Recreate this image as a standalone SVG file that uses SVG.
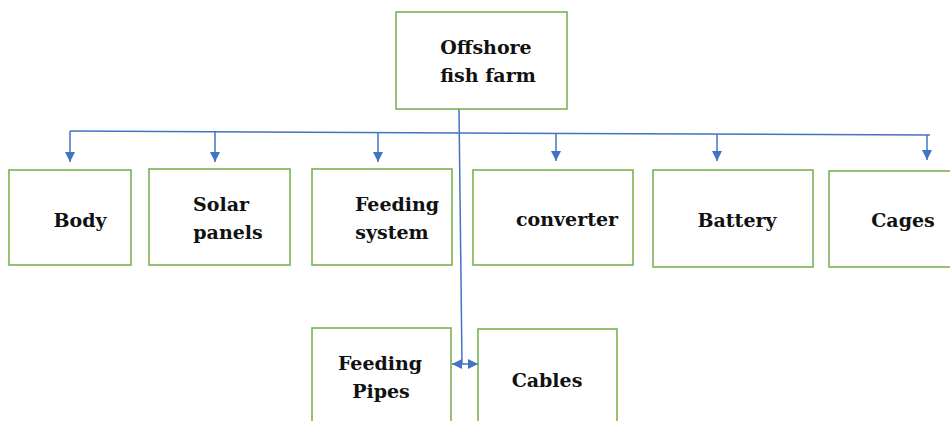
<svg xmlns="http://www.w3.org/2000/svg" width="950" height="421" viewBox="0 0 950 421">
<defs>
<marker id="ah" viewBox="0 0 10 10" refX="10" refY="5" markerWidth="10" markerHeight="10" markerUnits="userSpaceOnUse" orient="auto-start-reverse">
<path d="M0,0 L10,5 L0,10 Z" fill="#4472C4"/>
</marker>
<style>
.box{fill:#fff;stroke:#70AD47;stroke-width:1.5}
.lbl{font-family:'DejaVu Serif',serif;font-weight:bold;font-size:19px;fill:#111;text-anchor:middle}
.ln{fill:none;stroke:#4472C4;stroke-width:1.5}
</style>
</defs>
<rect width="950" height="421" fill="#fff"/>
<g id="connectors">
<polyline class="ln" points="70,131 460,133 930,135"/>
<line class="ln" x1="70" y1="131" x2="70" y2="162" marker-end="url(#ah)"/>
<line class="ln" x1="215" y1="131" x2="215" y2="162" marker-end="url(#ah)"/>
<line class="ln" x1="378" y1="132" x2="378" y2="162" marker-end="url(#ah)"/>
<line class="ln" x1="556" y1="134" x2="556" y2="161" marker-end="url(#ah)"/>
<line class="ln" x1="717" y1="134" x2="717" y2="161" marker-end="url(#ah)"/>
<line class="ln" x1="927" y1="135" x2="927" y2="160" marker-end="url(#ah)"/>
<line class="ln" x1="459" y1="109" x2="462" y2="364"/>
<line class="ln" x1="452" y1="364" x2="478" y2="364" marker-start="url(#ah)" marker-end="url(#ah)"/>
</g>
<g id="offshore"><rect class="box" x="396" y="12" width="171" height="97"/>
<text class="lbl" x="486" y="54">Offshore</text><text class="lbl" x="488" y="82">fish farm</text></g>
<g id="body"><rect class="box" x="9" y="170" width="122" height="95"/>
<text class="lbl" x="80" y="227">Body</text></g>
<g id="solar"><rect class="box" x="149" y="169" width="141" height="96"/>
<text class="lbl" x="221" y="211">Solar</text><text class="lbl" x="228" y="239">panels</text></g>
<g id="feeding-system"><rect class="box" x="312" y="169" width="140" height="96"/>
<text class="lbl" x="397" y="211">Feeding</text><text class="lbl" x="392" y="239">system</text></g>
<g id="converter"><rect class="box" x="473" y="170" width="160" height="95"/>
<text class="lbl" x="567" y="226">converter</text></g>
<g id="battery"><rect class="box" x="653" y="170" width="160" height="97"/>
<text class="lbl" x="737" y="227">Battery</text></g>
<g id="cages"><rect class="box" x="829" y="171" width="125" height="96"/>
<text class="lbl" x="903" y="227">Cages</text></g>
<g id="feeding-pipes"><rect class="box" x="312" y="328" width="139" height="100"/>
<text class="lbl" x="380" y="370">Feeding</text><text class="lbl" x="381" y="398">Pipes</text></g>
<g id="cables"><rect class="box" x="478" y="329" width="139" height="100"/>
<text class="lbl" x="547" y="387">Cables</text></g>
</svg>
